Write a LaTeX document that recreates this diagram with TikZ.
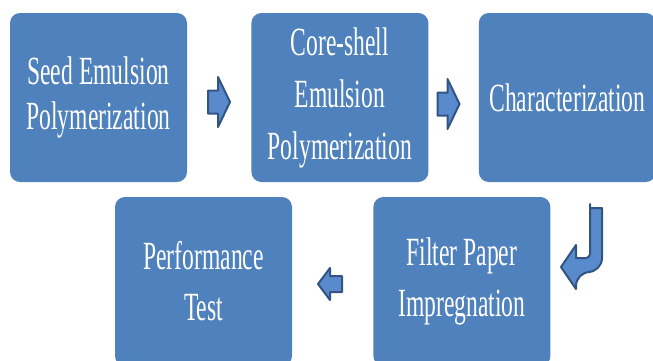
\documentclass[tikz,border=0pt]{standalone}
\usepackage{fontspec}
\setmainfont{Liberation Serif}[FakeStretch=0.59]
\usetikzlibrary{positioning}
\definecolor{boxblue}{RGB}{79,129,189}
\definecolor{arrowfill}{RGB}{88,138,204}
\definecolor{arrowline}{RGB}{50,84,132}

\begin{document}
\begin{tikzpicture}[
    x=1pt, y=-1pt,
    node distance=64pt,
    stepbox/.style={rectangle, rounded corners=10pt, fill=boxblue, text=white,
        minimum width=177pt, minimum height=169pt, align=center, inner sep=2pt,
        font=\fontsize{40}{51}\selectfont},
    flowarrow/.style={fill=arrowfill, draw=arrowline, line width=2pt, line join=round}
]
    \useasboundingbox (0,0) rectangle (653,360);

    % Steps, top row
    \node[stepbox, font=\fontsize{40}{45}\selectfont] (seed) at (98.5,97.5) {Seed Emulsion\\Polymerization};
    \node[stepbox, font=\fontsize{40}{52}\selectfont] (core) [right=64pt of seed] {Core-shell\\Emulsion\\Polymerization};
    \node[stepbox] (charac) [right=50pt of core] {Characterization};

    % Steps, bottom row
    \node[stepbox] (perf) at (203.5,281.5) {Performance\\Test};
    \node[stepbox] (filter) [right=81pt of perf] {Filter Paper\\Impregnation};

    % Block arrows
    \coordinate (a1) at (219,102);
    \coordinate (a2) at (448.5,104);
    \coordinate (a3) at (330,284);

    \draw[flowarrow, shift={(a1)}] (-11,-11.5) -- (-1,-11.5) -- (-1,-25) -- (11,0)
        -- (-1,25) -- (-1,11.5) -- (-11,11.5) -- cycle;
    \draw[flowarrow, shift={(a2)}] (-11,-11.5) -- (-1,-11.5) -- (-1,-25) -- (11,0)
        -- (-1,25) -- (-1,11.5) -- (-11,11.5) -- cycle;
    \draw[flowarrow, shift={(a3)}] (12,-8) -- (0,-8) -- (0,-16) -- (-12,0)
        -- (0,16) -- (0,8) -- (12,8) -- cycle;

    % U-turn from Characterization down to Filter Paper
    \draw[flowarrow] (590,208) -- (602,208) {[rounded corners=14pt] -- (602,272) -- (576,272)}
        -- (576,289) -- (561,267) -- (576,245) -- (576,258)
        {[rounded corners=4pt] -- (590,258) -- (590,208)} -- cycle;
\end{tikzpicture}
\end{document}
